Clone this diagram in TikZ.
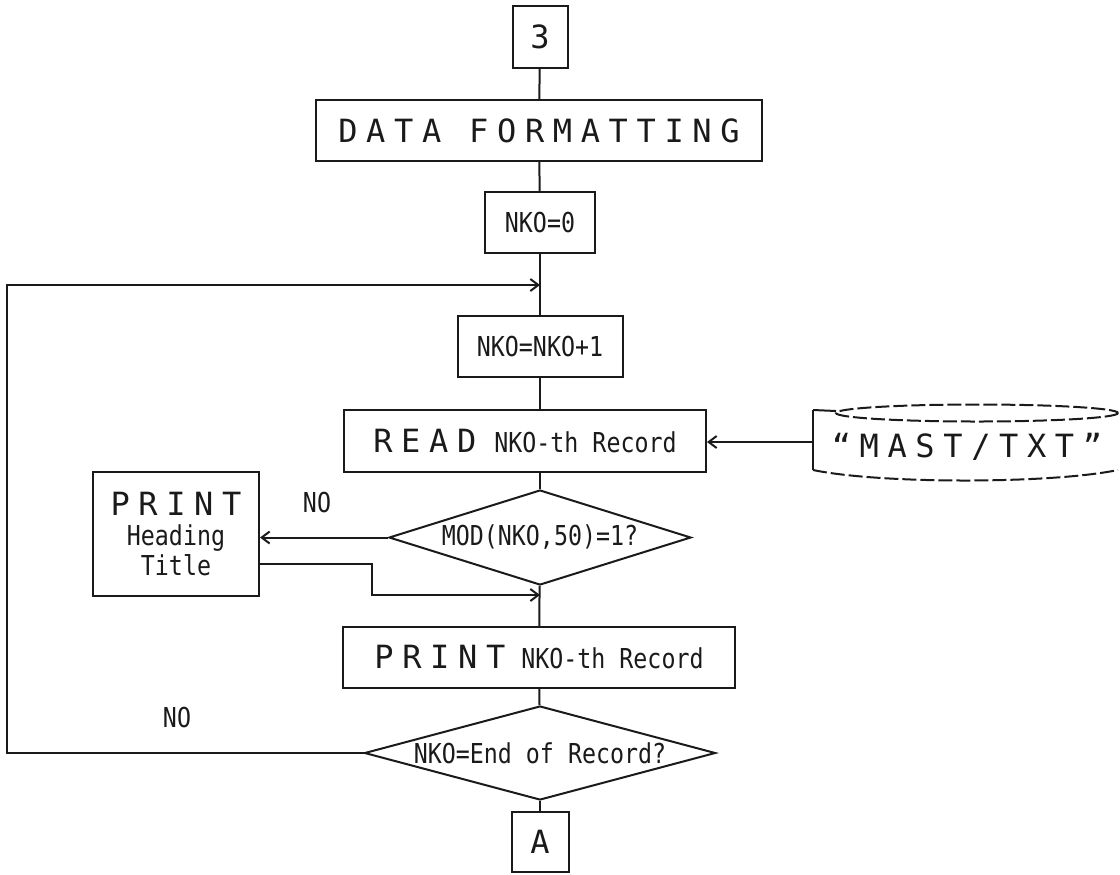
\documentclass[tikz,border=0pt]{standalone}
\usepackage{fontspec}
\usepackage{tikz}
\usetikzlibrary{arrows.meta,shapes.geometric}
\newfontfamily\widefont[LetterSpace=27]{DejaVu Sans Mono}
\newfontfamily\condfont[FakeStretch=0.85]{DejaVu Sans Mono}
\newcommand{\bigtxt}[1]{{\widefont\fontsize{16}{18}\selectfont #1}}
\definecolor{cInk}{HTML}{1A1A1A}
\tikzset{
  box/.style  ={draw=cInk,line width=1pt,inner sep=0pt,align=center,text=cInk},
  term/.style ={box,font=\widefont\fontsize{16}{18}\selectfont},
  proc/.style ={box,font=\condfont\fontsize{13.7}{15}\selectfont},
  dec/.style  ={proc,diamond,aspect=3.6},
  lbl/.style  ={font=\condfont\fontsize{13.7}{15}\selectfont,inner sep=0pt,text=cInk},
  flow/.style ={draw=cInk,line width=1pt},
  arr/.style  ={flow,-{Straight Barb[length=4pt,width=6pt]}},
  dsk/.style  ={flow,dash pattern=on 7pt off 2pt},
}

\begin{document}
\begin{tikzpicture}[x=0.5pt, y=-0.5pt]
\useasboundingbox (0,0) rectangle (1120,874);

% ---- main column ---------------------------------------------------------
\node[term,minimum width=27.5pt,minimum height=31pt]   (c3)   at (540,37)    {3};
\node[term,minimum width=223pt,minimum height=30.5pt]  (fmt)  at (539,130.5) {DATA FORMATTING};
\node[proc,minimum width=55pt,minimum height=30.5pt]   (init) at (540,222.5) {NKO=0};
\node[proc,minimum width=82.5pt,minimum height=30.5pt] (incr) at (540,346.5) {NKO=NKO+1};
\node[proc,minimum width=181pt,minimum height=31pt]    (read) at (525,441)
  {\bigtxt{READ}\hspace{9pt}NKO-th Record};
\node[dec,minimum width=151pt,minimum height=47.5pt]   (mod)  at (540,537.5) {MOD(NKO,50)=1?};
\node[proc,minimum width=196pt,minimum height=30.5pt]  (prec) at (539,657.5)
  {\bigtxt{PRINT}\hspace{8pt}NKO-th Record};
\node[dec,minimum width=175.5pt,minimum height=47pt]   (endq) at (540,753)   {NKO=End of Record?};
\node[term,minimum width=28.5pt,minimum height=30pt]   (cA)   at (540,842)   {A};

% ---- side boxes ----------------------------------------------------------
\node[proc,minimum width=83pt,minimum height=62pt] (head) at (176,534)
  {\bigtxt{PRINT}\\Heading\\Title};
\node[term,draw=none] (mast) at (967,447) {“MAST/TXT”};
\draw[flow] (813,410) -- (813,470);
\draw[flow] (813,410) -- (836,411);
\draw[dsk] (977,413) ellipse [x radius=141, y radius=8.5];
\draw[dsk] (813,470) .. controls (880,484) and (1050,484) .. (1118,470);

\node[lbl] (no1) at (317,503) {NO};
\node[lbl] (no2) at (177,718) {NO};

% ---- connectors ----------------------------------------------------------
\coordinate (loopin) at (540,285);
\coordinate (merge)  at (540,595);
\coordinate (mastL)  at (813,442);
\coordinate (hdout)  at (259,564);

\draw[flow] (c3) -- (fmt);
\draw[flow] (fmt) -- (init);
\draw[flow] (init) -- (incr);
\draw[flow] (incr.south) -- (incr.south |- read.north);
\draw[flow] (mod.north |- read.south) -- (mod.north);
\draw[flow] (mod) -- (prec);
\draw[flow] (prec) -- (endq);
\draw[flow] (endq) -- (cA);
\draw[arr] (mastL) -- (mastL -| read.east);
\draw[arr] (mod.west) -- (mod.west -| head.east);
\draw[arr] (hdout) -| (372,595) -- (merge);
\draw[arr] (endq.west) -| (7,285) -- (loopin);
\end{tikzpicture}
\end{document}
